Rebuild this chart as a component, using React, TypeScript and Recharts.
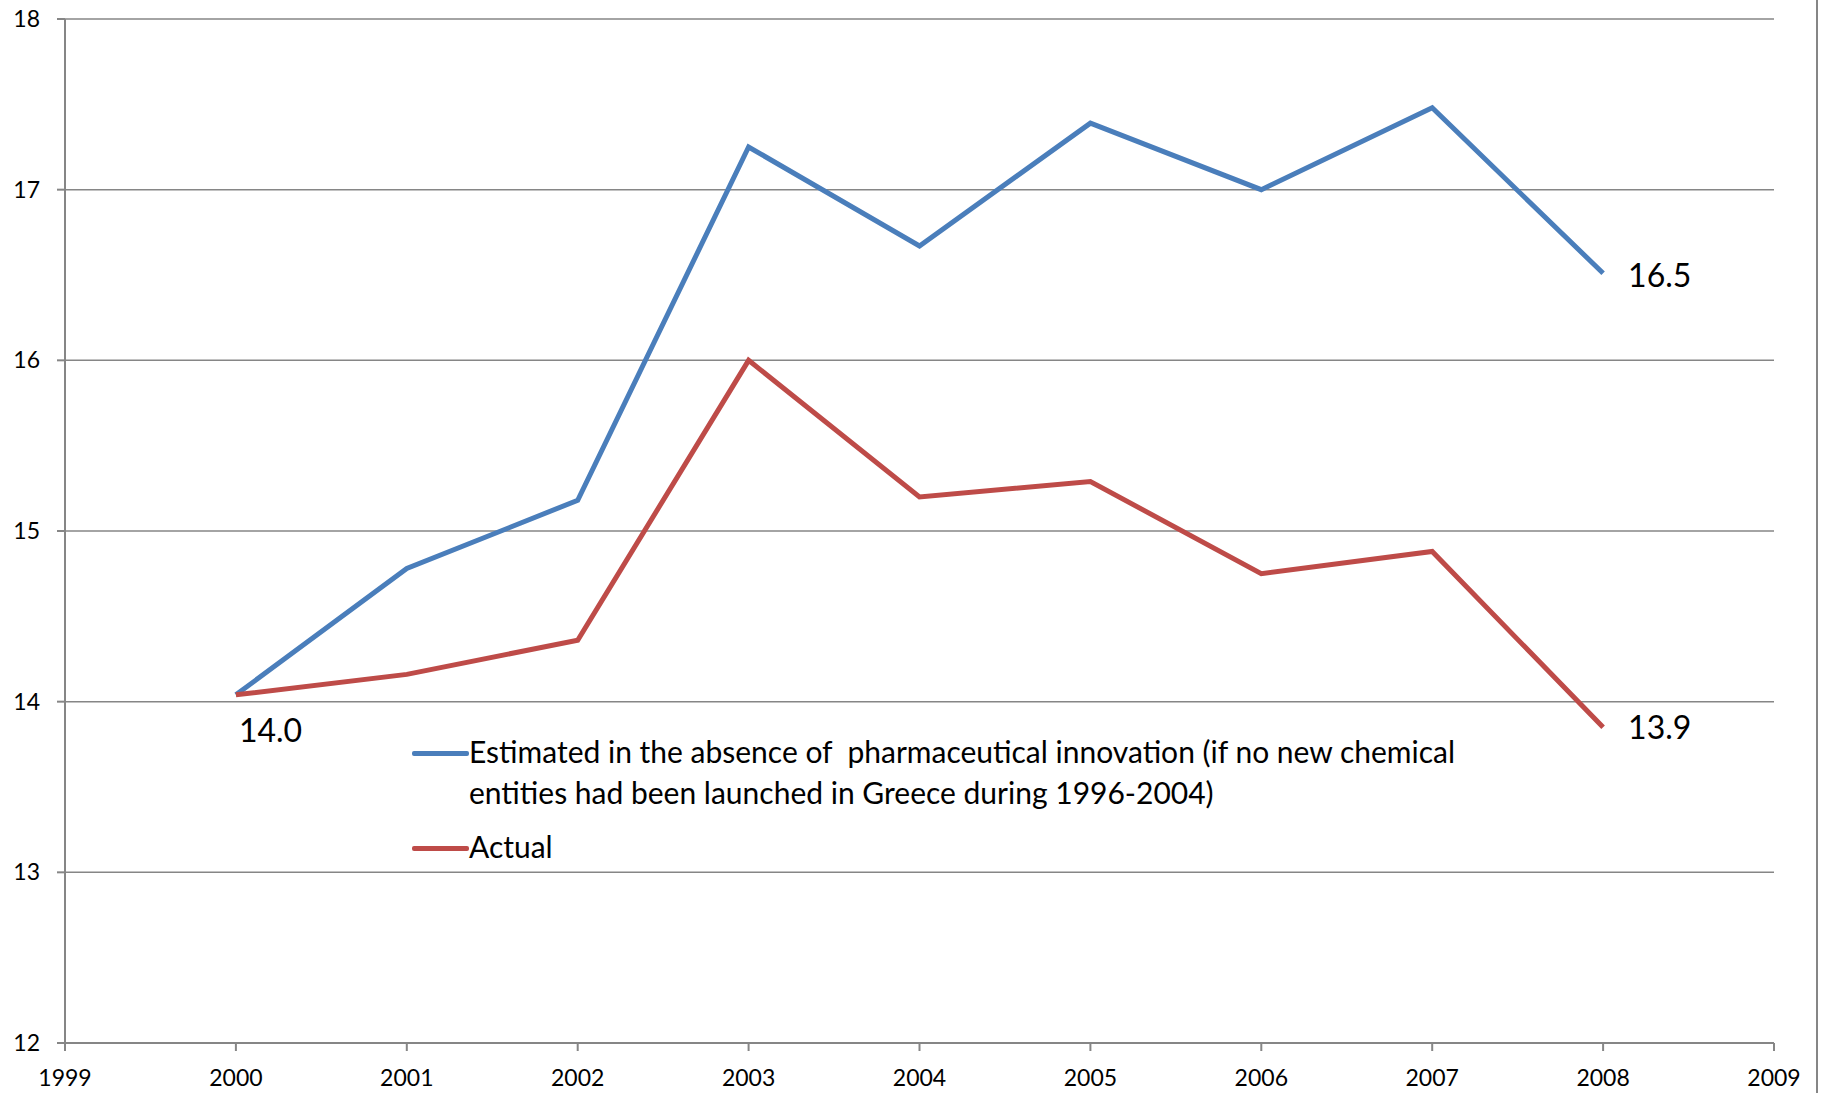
import React from "react";
import { LineChart, Line, XAxis, YAxis, CartesianGrid, Legend } from "recharts";

const years = [2000, 2001, 2002, 2003, 2004, 2005, 2006, 2007, 2008];
const estimated = [14.04, 14.78, 15.18, 17.25, 16.67, 17.39, 17.0, 17.48, 16.51];
const actual = [14.04, 14.16, 14.36, 16.0, 15.2, 15.29, 14.75, 14.88, 13.85];
const estimatedLabels = ["", "", "", "", "", "", "", "", "16.5"];
const actualLabels = ["14.0", "", "", "", "", "", "", "", "13.9"];
const xTicks = [1999, 2000, 2001, 2002, 2003, 2004, 2005, 2006, 2007, 2008, 2009];
const yTicks = [12, 13, 14, 15, 16, 17, 18];
const estimatedName =
  "Estimated in the absence of  pharmaceutical innovation (if no new chemical entities had been launched in Greece during 1996-2004)";
const actualName = "Actual";

const BLUE = "#4A7EBB";
const RED = "#BE4B48";
const GRID = "#868686";
const FONT = "Lato, 'Liberation Sans', sans-serif";

const data = years.map((y, i) => ({
  year: y,
  estimated: estimated[i],
  actual: actual[i],
}));

const labelOffsets: Record<string, { dx: number; dy: number }> = {
  "14.0": { dx: 3, dy: 47 },
  "16.5": { dx: 25, dy: 14 },
  "13.9": { dx: 25, dy: 12 },
};

const makeLabel = (labels: string[]) => (props: any) => {
  const { x, y, index } = props;
  const t = labels[index];
  if (!t) return null;
  const off = labelOffsets[t] || { dx: 0, dy: 0 };
  return (
    <text x={x + off.dx} y={y + off.dy} fontSize={32} fontFamily={FONT} fill="#000">
      {t}
    </text>
  );
};

const LegendContent = () => {
  const item = (color: string, text: React.ReactNode, mt: number) => (
    <div style={{ display: "flex", alignItems: "flex-start", marginTop: mt }}>
      <div style={{ width: 57, height: 5, background: color, marginTop: 18, flexShrink: 0, borderRadius: 2 }} />
      <div style={{ fontSize: 30, lineHeight: "41px", fontFamily: FONT, color: "#000", marginTop: -2, whiteSpace: "nowrap" }}>{text}</div>
    </div>
  );
  return (
    <div style={{ textAlign: "left" }}>
      {item(
        BLUE,
        <>
          Estimated in the absence of&nbsp; pharmaceutical innovation (if no new chemical
          <br />
          entities had been launched in Greece during 1996-2004)
        </>,
        0
      )}
      {item(RED, actualName, 15)}
    </div>
  );
};

export default function App() {
  return (
    <div style={{ position: "absolute", left: 0, top: 0, width: 1822, height: 1093, background: "#fff" }}>
      <LineChart
        width={1822}
        height={1093}
        data={data}
        margin={{ top: 19, right: 48, bottom: 0, left: 0 }}
      >
        <CartesianGrid vertical={false} stroke={GRID} strokeWidth={1.5} />
        <XAxis
          dataKey="year"
          type="number"
          domain={[1999, 2009]}
          ticks={xTicks}
          interval={0}
          height={50}
          stroke={GRID}
          strokeWidth={2}
          tickSize={8}
          tickMargin={19}
          tick={{ fill: "#000", fontSize: 23, fontFamily: FONT }}
        />
        <YAxis
          type="number"
          domain={[12, 18]}
          ticks={yTicks}
          interval={0}
          width={65}
          stroke={GRID}
          strokeWidth={2}
          tickSize={8}
          tickMargin={17}
          tick={{ fill: "#000", fontSize: 23, fontFamily: FONT }}
        />
        <Legend
          layout="horizontal"
          verticalAlign="middle"
          align="center"
          content={<LegendContent />}
          wrapperStyle={{ left: 412, top: 733, width: 1150 }}
        />
        <Line
          name={estimatedName}
          dataKey="estimated"
          stroke={BLUE}
          strokeWidth={5}
          dot={false}
          activeDot={false}
          isAnimationActive={false}
          label={makeLabel(estimatedLabels)}
        />
        <Line
          name={actualName}
          dataKey="actual"
          stroke={RED}
          strokeWidth={5}
          dot={false}
          activeDot={false}
          isAnimationActive={false}
          label={makeLabel(actualLabels)}
        />
      </LineChart>
      <div style={{ position: "absolute", left: 1816, top: 0, width: 2, height: 1093, background: GRID }} />
    </div>
  );
}
